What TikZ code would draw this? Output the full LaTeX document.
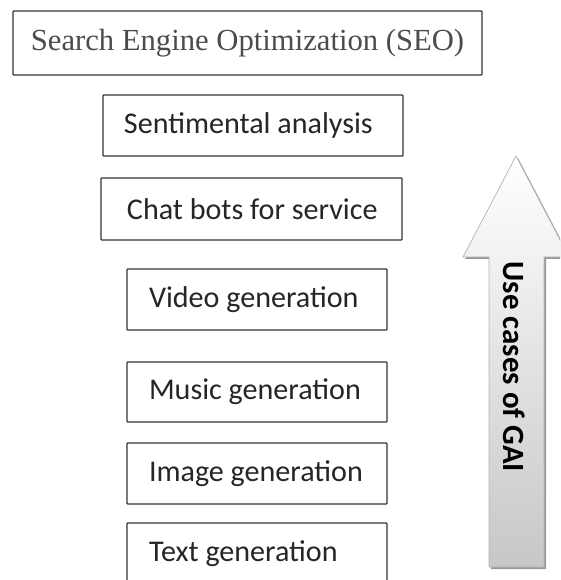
\documentclass[tikz,border=0pt]{standalone}
\usepackage{fontspec}
\setmainfont{Liberation Serif}
\setsansfont{Carlito}
\usetikzlibrary{positioning}
\colorlet{boxline}{black!80}
\colorlet{seotext}{black!70}
\colorlet{arrowtop}{white}
\colorlet{arrowbottom}{black!22}
\newcommand{\leftin}[2]{\makebox[#1][l]{#2}}

\begin{document}
\begin{tikzpicture}[x=0.25mm, y=-0.25mm,
  usecase/.style={draw=boxline, line width=0.9pt, rounded corners=0.6pt,
    fill=white, inner ysep=0pt, inner xsep=5.5mm,
    font=\sffamily\fontsize{21.4}{24}\selectfont, text=black!85},
  bigbar/.style={draw=black!30, line width=0.5pt,
    top color=arrowtop, bottom color=arrowbottom}]

  \useasboundingbox (0,0) rectangle (560,580);
  \clip (0,0) rectangle (560,580);

  % boxes, top to bottom
  \node[usecase, inner xsep=0pt, minimum width=469*0.25mm,
    minimum height=64*0.25mm,
    font=\rmfamily\fontsize{21.8}{24}\selectfont, text=seotext]
    (seo) at (247.5,43) {Search Engine Optimization (SEO)};
  \node[usecase, inner xsep=5.25mm, minimum height=61*0.25mm]
    (senti) at (253,125.5) {\leftin{64.5mm}{Sentimental analysis}};
  \node[usecase, inner xsep=6.5mm, minimum height=62*0.25mm]
    (chat) at (251.5,209) {\leftin{62.25mm}{Chat bots for service}};
  \node[usecase, minimum height=61*0.25mm]
    (video) at (257,299.5) {\leftin{54mm}{Video generation}};
  \node[usecase, minimum height=60*0.25mm]
    (music) at (257,392) {\leftin{54mm}{Music generation}};
  \node[usecase, minimum height=61*0.25mm]
    (image) at (257,473.5) {\leftin{54mm}{Image generation}};
  \node[usecase, minimum height=61*0.25mm]
    (text) at (257,553.5) {\leftin{54mm}{Text generation}};

  % the big arrow
  \fill[black!40] (518,158) -- (571,259) -- (546,259) -- (546,569)
    -- (491,569) -- (491,259) -- (465,259) -- cycle;
  \path[bigbar] (516,156) -- (569,257) -- (544,257) -- (544,567)
    -- (489,567) -- (489,257) -- (463,257) -- cycle;
  \node[rotate=-90, font=\sffamily\bfseries\fontsize{22}{24}\selectfont]
    (gai) at (514,367) {Use cases of GAI};

\end{tikzpicture}
\end{document}
